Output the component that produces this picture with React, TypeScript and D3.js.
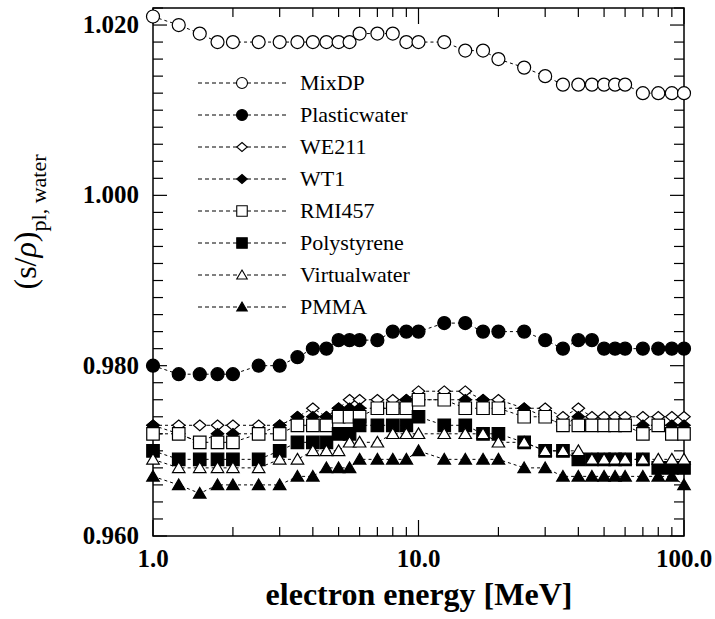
import React, { useEffect, useRef } from 'react';
import * as d3 from 'd3';

// electron energies [MeV]
const energies = [1, 1.25, 1.5, 1.75, 2, 2.5, 3, 3.5, 4, 4.5, 5, 5.5, 6, 7, 8, 9, 10,
  12.5, 15, 17.5, 20, 25, 30, 35, 40, 45, 50, 55, 60, 70, 80, 90, 100];

const mixDP = [1.021, 1.020, 1.019, 1.018, 1.018, 1.018, 1.018, 1.018, 1.018, 1.018, 1.018, 1.018, 1.019, 1.019, 1.019, 1.018, 1.018,
  1.018, 1.017, 1.017, 1.016, 1.015, 1.014, 1.013, 1.013, 1.013, 1.013, 1.013, 1.013, 1.012, 1.012, 1.012, 1.012];
const plasticwater = [0.980, 0.979, 0.979, 0.979, 0.979, 0.980, 0.980, 0.981, 0.982, 0.982, 0.983, 0.983, 0.983, 0.983, 0.984, 0.984, 0.984,
  0.985, 0.985, 0.984, 0.984, 0.984, 0.983, 0.982, 0.983, 0.983, 0.982, 0.982, 0.982, 0.982, 0.982, 0.982, 0.982];
const we211 = [0.973, 0.973, 0.973, 0.973, 0.973, 0.973, 0.973, 0.974, 0.975, 0.974, 0.975, 0.976, 0.976, 0.976, 0.976, 0.976, 0.977,
  0.977, 0.977, 0.976, 0.976, 0.975, 0.975, 0.974, 0.975, 0.974, 0.974, 0.974, 0.974, 0.974, 0.974, 0.974, 0.974];
const wt1 = [0.973, 0.972, 0.971, 0.972, 0.972, 0.972, 0.973, 0.974, 0.974, 0.974, 0.975, 0.975, 0.975, 0.975, 0.975, 0.976, 0.976,
  0.976, 0.976, 0.976, 0.975, 0.975, 0.974, 0.973, 0.974, 0.973, 0.973, 0.973, 0.973, 0.973, 0.973, 0.973, 0.973];
const rmi457 = [0.972, 0.972, 0.971, 0.971, 0.971, 0.972, 0.972, 0.973, 0.973, 0.973, 0.974, 0.974, 0.974, 0.975, 0.975, 0.975, 0.976,
  0.976, 0.975, 0.975, 0.975, 0.974, 0.974, 0.973, 0.973, 0.973, 0.973, 0.973, 0.973, 0.972, 0.973, 0.972, 0.972];
const polystyrene = [0.970, 0.969, 0.969, 0.969, 0.969, 0.969, 0.970, 0.971, 0.971, 0.971, 0.972, 0.972, 0.973, 0.973, 0.973, 0.973, 0.974,
  0.973, 0.973, 0.972, 0.972, 0.971, 0.970, 0.970, 0.969, 0.969, 0.969, 0.969, 0.969, 0.969, 0.968, 0.968, 0.968];
const virtualwater = [0.969, 0.968, 0.968, 0.968, 0.968, 0.968, 0.969, 0.969, 0.970, 0.970, 0.970, 0.971, 0.971, 0.971, 0.972, 0.972, 0.972,
  0.972, 0.972, 0.972, 0.971, 0.971, 0.970, 0.970, 0.970, 0.969, 0.969, 0.969, 0.969, 0.969, 0.969, 0.969, 0.969];
const pmma = [0.967, 0.966, 0.965, 0.966, 0.966, 0.966, 0.966, 0.967, 0.967, 0.968, 0.968, 0.968, 0.969, 0.969, 0.969, 0.969, 0.970,
  0.969, 0.969, 0.969, 0.969, 0.968, 0.968, 0.967, 0.967, 0.967, 0.967, 0.967, 0.967, 0.967, 0.967, 0.967, 0.966];

const seriesNames = ['MixDP', 'Plasticwater', 'WE211', 'WT1', 'RMI457', 'Polystyrene', 'Virtualwater', 'PMMA'];
const seriesValues = [mixDP, plasticwater, we211, wt1, rmi457, polystyrene, virtualwater, pmma];
const seriesShapes = ['circle', 'circle', 'diamond', 'diamond', 'square', 'square', 'triangle', 'triangle'];
const seriesFilled = [false, true, false, true, false, true, false, true];

const yMajorTicks = [0.96, 0.98, 1.0, 1.02];
const xMajorTicks = [1, 10, 100];
const xMinorTicks = [2, 3, 4, 5, 6, 7, 8, 9, 20, 30, 40, 50, 60, 70, 80, 90];

const FONT = '"Liberation Serif", "Times New Roman", serif';

function markerPath(shape: string, s: number) {
  const h = s / 2;
  if (shape === 'circle') {
    return `M${-h},0A${h},${h} 0 1,0 ${h},0A${h},${h} 0 1,0 ${-h},0Z`;
  }
  if (shape === 'square') {
    return `M${-h},${-h}H${h}V${h}H${-h}Z`;
  }
  if (shape === 'diamond') {
    return `M0,${-h * 0.85}L${h},0L0,${h * 0.85}L${-h},0Z`;
  }
  // triangle
  return `M0,${-h * 0.95}L${h},${h * 0.75}L${-h},${h * 0.75}Z`;
}

const App = () => {
  const svgRef = useRef<SVGSVGElement>(null);

  useEffect(() => {
    const svg = d3.select(svgRef.current);
    svg.selectAll('*').remove();

    const left = 153, right = 684, top = 8, bottom = 536;
    const x = d3.scaleLog().domain([1, 100]).range([left, right]);
    const y = d3.scaleLinear().domain([0.96, 1.022]).range([bottom, top]);

    const g = svg.append('g');

    // frame
    g.append('rect')
      .attr('x', left).attr('y', top)
      .attr('width', right - left).attr('height', bottom - top)
      .attr('fill', 'none').attr('stroke', '#000').attr('stroke-width', 1.5);

    // y ticks, left and right, inward
    const yMinor = d3.range(0, 32).map(i => 0.96 + i * 0.002).filter(v => v <= 1.0221);
    yMinor.forEach(v => {
      const major = yMajorTicks.some(m => Math.abs(m - v) < 1e-6);
      const len = major ? 14 : 10;
      const yy = y(v);
      g.append('line').attr('x1', left).attr('x2', left + len).attr('y1', yy).attr('y2', yy)
        .attr('stroke', '#000').attr('stroke-width', 1.2);
      g.append('line').attr('x1', right).attr('x2', right - len).attr('y1', yy).attr('y2', yy)
        .attr('stroke', '#000').attr('stroke-width', 1.2);
    });

    yMajorTicks.forEach(v => {
      g.append('text')
        .attr('x', left - 14).attr('y', y(v) + 8)
        .attr('text-anchor', 'end')
        .attr('font-family', FONT).attr('font-weight', 'bold').attr('font-size', 25)
        .text(v.toFixed(3));
    });

    // x ticks, bottom and top, inward
    [...xMinorTicks, ...xMajorTicks].forEach(v => {
      const major = xMajorTicks.includes(v);
      const len = major ? 16 : 9;
      const xx = x(v);
      g.append('line').attr('x1', xx).attr('x2', xx).attr('y1', bottom).attr('y2', bottom - len)
        .attr('stroke', '#000').attr('stroke-width', 1.2);
      g.append('line').attr('x1', xx).attr('x2', xx).attr('y1', top).attr('y2', top + len)
        .attr('stroke', '#000').attr('stroke-width', 1.2);
    });

    xMajorTicks.forEach(v => {
      g.append('text')
        .attr('x', x(v)).attr('y', 567)
        .attr('text-anchor', 'middle')
        .attr('font-family', FONT).attr('font-weight', 'bold').attr('font-size', 25)
        .text(v.toFixed(1));
    });

    // series
    const line = d3.line<number>()
      .x((_, i) => x(energies[i]))
      .y(v => y(v));

    seriesValues.forEach((vals, si) => {
      const sg = g.append('g');
      sg.append('path')
        .attr('d', line(vals))
        .attr('fill', 'none')
        .attr('stroke', '#000')
        .attr('stroke-width', 1)
        .attr('stroke-dasharray', '3,3');
      const shape = seriesShapes[si];
      const size = shape === 'circle' ? 13 : 12.5;
      sg.selectAll('path.m')
        .data(vals)
        .enter()
        .append('path')
        .attr('class', 'm')
        .attr('transform', (v, i) => `translate(${x(energies[i])},${y(v)})`)
        .attr('d', markerPath(shape, size))
        .attr('fill', seriesFilled[si] ? '#000' : '#fff')
        .attr('stroke', '#000')
        .attr('stroke-width', 1.2);
    });

    // legend
    const lg = g.append('g');
    seriesNames.forEach((name, i) => {
      const ly = 83 + i * 32;
      lg.append('line')
        .attr('x1', 198).attr('x2', 287).attr('y1', ly).attr('y2', ly)
        .attr('stroke', '#000').attr('stroke-width', 1).attr('stroke-dasharray', '4,3');
      const shape = seriesShapes[i];
      lg.append('path')
        .attr('transform', `translate(242,${ly})`)
        .attr('d', markerPath(shape, shape === 'circle' ? 11 : 10.5))
        .attr('fill', seriesFilled[i] ? '#000' : '#fff')
        .attr('stroke', '#000').attr('stroke-width', 1.1);
      lg.append('text')
        .attr('x', 300).attr('y', ly + 7)
        .attr('font-family', FONT).attr('font-size', 22)
        .text(name);
    });

    // axis titles
    g.append('text')
      .attr('x', 419).attr('y', 605)
      .attr('text-anchor', 'middle')
      .attr('font-family', FONT).attr('font-weight', 'bold').attr('font-size', 32)
      .text('electron energy [MeV]');

    const yt = g.append('text')
      .attr('transform', 'translate(36,222) rotate(-90)')
      .attr('text-anchor', 'middle')
      .attr('font-family', FONT).attr('font-size', 32);
    yt.append('tspan').text('(s/');
    yt.append('tspan').attr('font-style', 'italic').text('ρ');
    yt.append('tspan').text(')');
    yt.append('tspan').attr('font-size', 22).attr('dy', 10).text('pl, water');
  }, []);

  return (
    <svg
      ref={svgRef}
      width={715}
      height={619}
      style={{ position: 'absolute', left: 0, top: 0, background: '#fff' }}
    />
  );
};

export default App;
